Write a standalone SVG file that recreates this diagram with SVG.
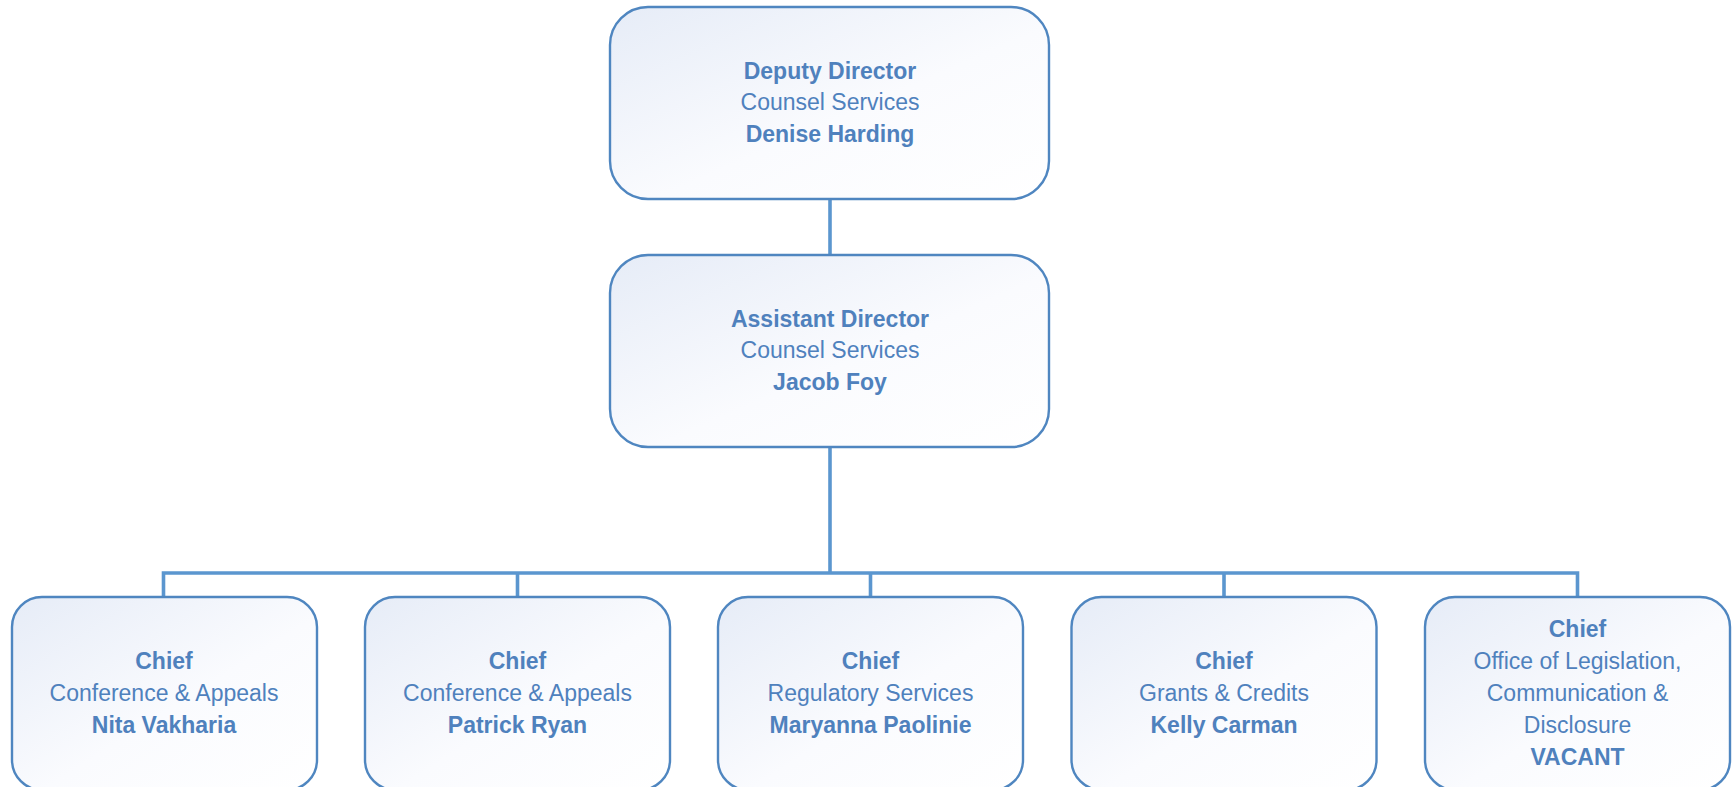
<svg xmlns="http://www.w3.org/2000/svg" width="1732" height="787" viewBox="0 0 1732 787">
<defs>
<linearGradient id="g" x1="0" y1="0" x2="1" y2="1">
<stop offset="0" stop-color="#E6ECF7"/>
<stop offset="0.55" stop-color="#FAFBFE"/>
<stop offset="1" stop-color="#FFFFFF"/>
</linearGradient>
<style>
.box{fill:url(#g);stroke:#4F86C0;stroke-width:2.4}
.conn{fill:none;stroke:#5B96CF;stroke-width:3.6}
text{font-family:"Liberation Sans",Arial,sans-serif;font-size:23px;fill:#4F81BD;text-anchor:middle}
.b{font-weight:bold}
</style>
</defs>
<rect width="1732" height="787" fill="#FFFFFF"/>
<g id="connectors">
<path class="conn" d="M830,199 V255"/>
<path class="conn" d="M830,447 V573"/>
<path class="conn" d="M163.5,598 V573 H1577.5 V598"/>
<path class="conn" d="M517.5,573 V598"/>
<path class="conn" d="M870.5,573 V598"/>
<path class="conn" d="M1224,573 V598"/>
</g>
<g id="deputy-director">
<rect class="box" x="610" y="7" width="439" height="192" rx="38" ry="38"/>
<text class="b" x="830" y="79">Deputy Director</text>
<text x="830" y="110">Counsel Services</text>
<text class="b" x="830" y="142">Denise Harding</text>
</g>
<g id="assistant-director">
<rect class="box" x="610" y="255" width="439" height="192" rx="38" ry="38"/>
<text class="b" x="830" y="327">Assistant Director</text>
<text x="830" y="358">Counsel Services</text>
<text class="b" x="830" y="390">Jacob Foy</text>
</g>
<g id="chief-vakharia">
<rect class="box" x="12" y="597" width="305" height="193" rx="30" ry="30"/>
<text class="b" x="164" y="669">Chief</text>
<text x="164" y="701">Conference &amp; Appeals</text>
<text class="b" x="164" y="733">Nita Vakharia</text>
</g>
<g id="chief-ryan">
<rect class="box" x="365" y="597" width="305" height="193" rx="30" ry="30"/>
<text class="b" x="517.5" y="669">Chief</text>
<text x="517.5" y="701">Conference &amp; Appeals</text>
<text class="b" x="517.5" y="733">Patrick Ryan</text>
</g>
<g id="chief-paolinie">
<rect class="box" x="718" y="597" width="305" height="193" rx="30" ry="30"/>
<text class="b" x="870.5" y="669">Chief</text>
<text x="870.5" y="701">Regulatory Services</text>
<text class="b" x="870.5" y="733">Maryanna Paolinie</text>
</g>
<g id="chief-carman">
<rect class="box" x="1071.5" y="597" width="305" height="193" rx="30" ry="30"/>
<text class="b" x="1224" y="669">Chief</text>
<text x="1224" y="701">Grants &amp; Credits</text>
<text class="b" x="1224" y="733">Kelly Carman</text>
</g>
<g id="chief-vacant">
<rect class="box" x="1425" y="597" width="305" height="193" rx="30" ry="30"/>
<text class="b" x="1577.5" y="637">Chief</text>
<text x="1577.5" y="669">Office of Legislation,</text>
<text x="1577.5" y="701">Communication &amp;</text>
<text x="1577.5" y="733">Disclosure</text>
<text class="b" x="1577.5" y="765">VACANT</text>
</g>
</svg>
